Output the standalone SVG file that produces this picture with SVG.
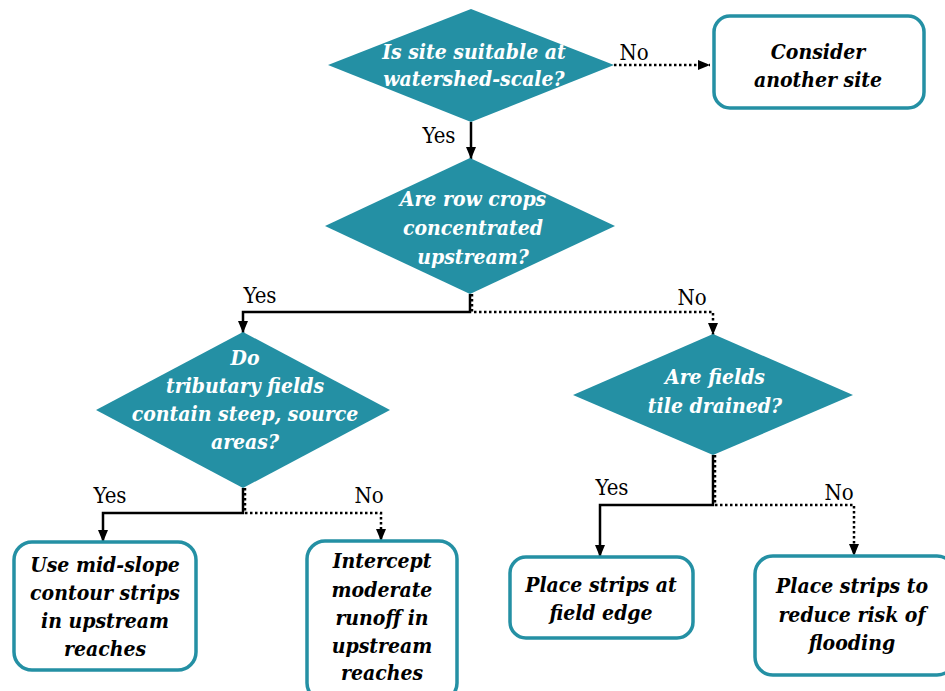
<svg xmlns="http://www.w3.org/2000/svg" width="945" height="691" viewBox="0 0 945 691">
<style>
.dia{fill:#2490A4;}
.box{fill:#fff;stroke:#2490A4;stroke-width:3.5;}
.dt{font-family:"DejaVu Serif Condensed","DejaVu Serif","Liberation Serif",serif;font-stretch:condensed;font-weight:bold;font-style:italic;font-size:21px;fill:#fff;text-anchor:middle;}
.bt{font-family:"DejaVu Serif Condensed","DejaVu Serif","Liberation Serif",serif;font-stretch:condensed;font-weight:bold;font-style:italic;font-size:21px;fill:#000;text-anchor:middle;}
.lb{font-family:"DejaVu Serif Condensed","DejaVu Serif","Liberation Serif",serif;font-stretch:condensed;font-size:22px;fill:#000;text-anchor:middle;}
.sol{fill:none;stroke:#000;stroke-width:2.5;}
.dot{fill:none;stroke:#000;stroke-width:2.5;stroke-dasharray:2.5 2.5;}
</style>
<defs>
<marker id="ah" viewBox="0 0 12 10" refX="12" refY="5" markerWidth="12" markerHeight="10" markerUnits="userSpaceOnUse" orient="auto">
<path d="M0,0 L12,5 L0,10 z" fill="#000"/>
</marker>
</defs>
<rect width="945" height="691" fill="#fff"/>
<g id="connectors">
<path class="dot" d="M614,65 H710" marker-end="url(#ah)"/>
<path class="sol" d="M471,122 V159" marker-end="url(#ah)"/>
<path class="dot" d="M472,294 V312 H713 V335" marker-end="url(#ah)"/>
<path class="sol" d="M470,294 V312 H243 V333" marker-end="url(#ah)"/>
<path class="dot" d="M245,488 V513 H381 V541" marker-end="url(#ah)"/>
<path class="sol" d="M243,488 V513 H103 V542" marker-end="url(#ah)"/>
<path class="dot" d="M715,455 V505 H854 V556" marker-end="url(#ah)"/>
<path class="sol" d="M713,455 V505 H600 V557" marker-end="url(#ah)"/>
</g>
<g id="labels">
<text class="lb" x="634" y="60">No</text>
<text class="lb" x="439" y="143">Yes</text>
<text class="lb" x="260" y="303">Yes</text>
<text class="lb" x="692" y="305">No</text>
<text class="lb" x="110" y="503">Yes</text>
<text class="lb" x="369" y="503">No</text>
<text class="lb" x="612" y="495">Yes</text>
<text class="lb" x="839" y="500">No</text>
</g>
<g id="d1">
<polygon class="dia" points="471,9 614,65 471,122 328,65"/>
<text class="dt" x="474" y="59">Is site suitable at</text>
<text class="dt" x="474" y="86">watershed-scale?</text>
</g>
<g id="n-consider">
<rect class="box" x="714" y="16" width="210" height="92" rx="16"/>
<text class="bt" x="818" y="59">Consider</text>
<text class="bt" x="818" y="87">another site</text>
</g>
<g id="d2">
<polygon class="dia" points="470,158 615,226 470,294 325,226"/>
<text class="dt" x="473" y="206">Are row crops</text>
<text class="dt" x="473" y="235">concentrated</text>
<text class="dt" x="473" y="264">upstream?</text>
</g>
<g id="d3">
<polygon class="dia" points="243,332 390,410 243,488 96,410"/>
<text class="dt" x="245" y="365">Do</text>
<text class="dt" x="245" y="393">tributary fields</text>
<text class="dt" x="245" y="421">contain steep, source</text>
<text class="dt" x="245" y="449">areas?</text>
</g>
<g id="d4">
<polygon class="dia" points="713,334 853,395 713,455 573,395"/>
<text class="dt" x="715" y="384">Are fields</text>
<text class="dt" x="715" y="413">tile drained?</text>
</g>
<g id="n-midslope">
<rect class="box" x="14" y="542" width="182" height="128" rx="18"/>
<text class="bt" x="105" y="572">Use mid-slope</text>
<text class="bt" x="105" y="600">contour strips</text>
<text class="bt" x="105" y="628">in upstream</text>
<text class="bt" x="105" y="656">reaches</text>
</g>
<g id="n-intercept">
<rect class="box" x="307" y="541" width="150" height="160" rx="18"/>
<text class="bt" x="382" y="568">Intercept</text>
<text class="bt" x="382" y="597">moderate</text>
<text class="bt" x="382" y="625">runoff in</text>
<text class="bt" x="382" y="653">upstream</text>
<text class="bt" x="382" y="680">reaches</text>
</g>
<g id="n-fieldedge">
<rect class="box" x="510" y="557" width="183" height="81" rx="16"/>
<text class="bt" x="601" y="592">Place strips at</text>
<text class="bt" x="601" y="620">field edge</text>
</g>
<g id="n-flooding">
<rect class="box" x="755" y="556" width="200" height="119" rx="18"/>
<text class="bt" x="852" y="593">Place strips to</text>
<text class="bt" x="852" y="622">reduce risk of</text>
<text class="bt" x="852" y="650">flooding</text>
</g>
</svg>
